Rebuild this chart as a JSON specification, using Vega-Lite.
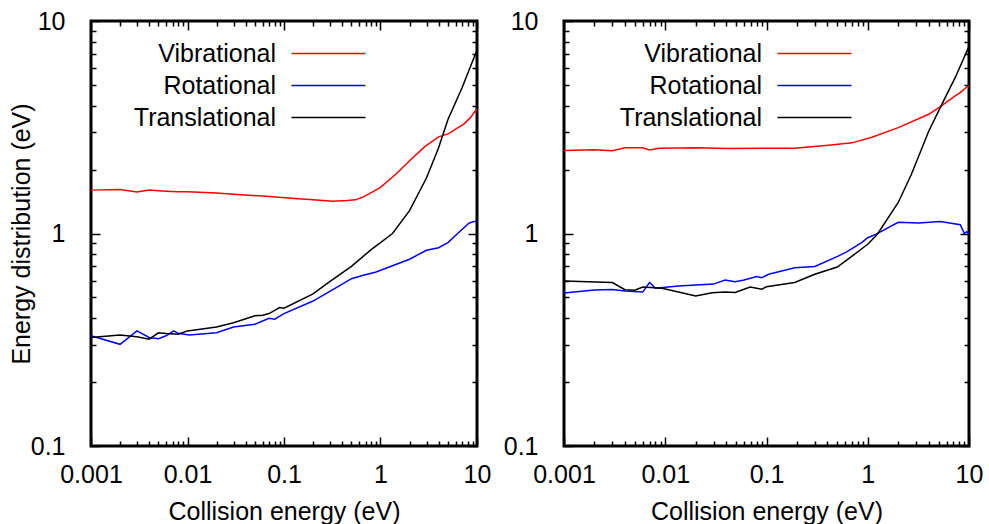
{
  "$schema": "https://vega.github.io/schema/vega-lite/v6.json",
  "background": "white",
  "padding": {"left": 7, "top": 7, "right": 5, "bottom": 5},
  "spacing": 8,
  "datasets": {
    "left": [
      {"type": "Vibrational", "x": 0.001, "y": 1.60},
      {"type": "Vibrational", "x": 0.002, "y": 1.61},
      {"type": "Vibrational", "x": 0.003, "y": 1.57},
      {"type": "Vibrational", "x": 0.004, "y": 1.60},
      {"type": "Vibrational", "x": 0.006, "y": 1.58},
      {"type": "Vibrational", "x": 0.008, "y": 1.57},
      {"type": "Vibrational", "x": 0.01, "y": 1.57},
      {"type": "Vibrational", "x": 0.02, "y": 1.55},
      {"type": "Vibrational", "x": 0.03, "y": 1.53},
      {"type": "Vibrational", "x": 0.06, "y": 1.50},
      {"type": "Vibrational", "x": 0.13, "y": 1.46},
      {"type": "Vibrational", "x": 0.2, "y": 1.44},
      {"type": "Vibrational", "x": 0.32, "y": 1.42},
      {"type": "Vibrational", "x": 0.45, "y": 1.43},
      {"type": "Vibrational", "x": 0.55, "y": 1.44},
      {"type": "Vibrational", "x": 0.65, "y": 1.48},
      {"type": "Vibrational", "x": 0.81, "y": 1.56},
      {"type": "Vibrational", "x": 1.0, "y": 1.65},
      {"type": "Vibrational", "x": 1.44, "y": 1.90},
      {"type": "Vibrational", "x": 2.0, "y": 2.2},
      {"type": "Vibrational", "x": 2.9, "y": 2.57},
      {"type": "Vibrational", "x": 4.0, "y": 2.85},
      {"type": "Vibrational", "x": 5.1, "y": 2.95},
      {"type": "Vibrational", "x": 6.0, "y": 3.1},
      {"type": "Vibrational", "x": 7.3, "y": 3.27},
      {"type": "Vibrational", "x": 8.5, "y": 3.5},
      {"type": "Vibrational", "x": 9.7, "y": 3.80},
      {"type": "Vibrational", "x": 10, "y": 3.85},
      {"type": "Rotational", "x": 0.001, "y": 0.330},
      {"type": "Rotational", "x": 0.002, "y": 0.301},
      {"type": "Rotational", "x": 0.003, "y": 0.348},
      {"type": "Rotational", "x": 0.004, "y": 0.324},
      {"type": "Rotational", "x": 0.005, "y": 0.320},
      {"type": "Rotational", "x": 0.006, "y": 0.330},
      {"type": "Rotational", "x": 0.0072, "y": 0.348},
      {"type": "Rotational", "x": 0.008, "y": 0.339},
      {"type": "Rotational", "x": 0.0104, "y": 0.333},
      {"type": "Rotational", "x": 0.02, "y": 0.341},
      {"type": "Rotational", "x": 0.03, "y": 0.363},
      {"type": "Rotational", "x": 0.05, "y": 0.374},
      {"type": "Rotational", "x": 0.07, "y": 0.399},
      {"type": "Rotational", "x": 0.08, "y": 0.395},
      {"type": "Rotational", "x": 0.1, "y": 0.42},
      {"type": "Rotational", "x": 0.2, "y": 0.481},
      {"type": "Rotational", "x": 0.37, "y": 0.566},
      {"type": "Rotational", "x": 0.5, "y": 0.613},
      {"type": "Rotational", "x": 0.65, "y": 0.634},
      {"type": "Rotational", "x": 0.9, "y": 0.659},
      {"type": "Rotational", "x": 2.0, "y": 0.757},
      {"type": "Rotational", "x": 3.0, "y": 0.834},
      {"type": "Rotational", "x": 4.0, "y": 0.857},
      {"type": "Rotational", "x": 5.0, "y": 0.906},
      {"type": "Rotational", "x": 6.3, "y": 1.0},
      {"type": "Rotational", "x": 8.3, "y": 1.12},
      {"type": "Rotational", "x": 9.5, "y": 1.14},
      {"type": "Rotational", "x": 10, "y": 1.15},
      {"type": "Translational", "x": 0.001, "y": 0.324},
      {"type": "Translational", "x": 0.002, "y": 0.333},
      {"type": "Translational", "x": 0.003, "y": 0.327},
      {"type": "Translational", "x": 0.004, "y": 0.318},
      {"type": "Translational", "x": 0.005, "y": 0.341},
      {"type": "Translational", "x": 0.006, "y": 0.338},
      {"type": "Translational", "x": 0.008, "y": 0.336},
      {"type": "Translational", "x": 0.01, "y": 0.348},
      {"type": "Translational", "x": 0.02, "y": 0.363},
      {"type": "Translational", "x": 0.03, "y": 0.38},
      {"type": "Translational", "x": 0.05, "y": 0.410},
      {"type": "Translational", "x": 0.06, "y": 0.412},
      {"type": "Translational", "x": 0.07, "y": 0.42},
      {"type": "Translational", "x": 0.09, "y": 0.448},
      {"type": "Translational", "x": 0.1, "y": 0.445},
      {"type": "Translational", "x": 0.2, "y": 0.52},
      {"type": "Translational", "x": 0.3, "y": 0.595},
      {"type": "Translational", "x": 0.5, "y": 0.70},
      {"type": "Translational", "x": 0.8, "y": 0.84},
      {"type": "Translational", "x": 1.0, "y": 0.906},
      {"type": "Translational", "x": 1.33, "y": 1.0},
      {"type": "Translational", "x": 2.0, "y": 1.28},
      {"type": "Translational", "x": 3.0, "y": 1.83},
      {"type": "Translational", "x": 4.0, "y": 2.53},
      {"type": "Translational", "x": 5.0, "y": 3.44},
      {"type": "Translational", "x": 7.0, "y": 4.85},
      {"type": "Translational", "x": 10, "y": 7.3}
    ],
    "right": [
      {"type": "Vibrational", "x": 0.001, "y": 2.46},
      {"type": "Vibrational", "x": 0.002, "y": 2.48},
      {"type": "Vibrational", "x": 0.003, "y": 2.45},
      {"type": "Vibrational", "x": 0.004, "y": 2.53},
      {"type": "Vibrational", "x": 0.006, "y": 2.53},
      {"type": "Vibrational", "x": 0.007, "y": 2.47},
      {"type": "Vibrational", "x": 0.0087, "y": 2.52},
      {"type": "Vibrational", "x": 0.02, "y": 2.53},
      {"type": "Vibrational", "x": 0.043, "y": 2.51},
      {"type": "Vibrational", "x": 0.09, "y": 2.52},
      {"type": "Vibrational", "x": 0.19, "y": 2.52},
      {"type": "Vibrational", "x": 0.41, "y": 2.60},
      {"type": "Vibrational", "x": 0.7, "y": 2.67},
      {"type": "Vibrational", "x": 1.1, "y": 2.84},
      {"type": "Vibrational", "x": 2.0, "y": 3.15},
      {"type": "Vibrational", "x": 4.0, "y": 3.64},
      {"type": "Vibrational", "x": 5.3, "y": 3.98},
      {"type": "Vibrational", "x": 7.3, "y": 4.44},
      {"type": "Vibrational", "x": 8.2, "y": 4.6},
      {"type": "Vibrational", "x": 9.5, "y": 4.89},
      {"type": "Vibrational", "x": 10, "y": 4.95},
      {"type": "Rotational", "x": 0.001, "y": 0.525},
      {"type": "Rotational", "x": 0.002, "y": 0.542},
      {"type": "Rotational", "x": 0.003, "y": 0.545},
      {"type": "Rotational", "x": 0.004, "y": 0.537},
      {"type": "Rotational", "x": 0.006, "y": 0.53},
      {"type": "Rotational", "x": 0.007, "y": 0.588},
      {"type": "Rotational", "x": 0.008, "y": 0.552},
      {"type": "Rotational", "x": 0.0135, "y": 0.566},
      {"type": "Rotational", "x": 0.03, "y": 0.578},
      {"type": "Rotational", "x": 0.039, "y": 0.604},
      {"type": "Rotational", "x": 0.049, "y": 0.593},
      {"type": "Rotational", "x": 0.06, "y": 0.604},
      {"type": "Rotational", "x": 0.08, "y": 0.627},
      {"type": "Rotational", "x": 0.09, "y": 0.62},
      {"type": "Rotational", "x": 0.105, "y": 0.643},
      {"type": "Rotational", "x": 0.19, "y": 0.690},
      {"type": "Rotational", "x": 0.30, "y": 0.70},
      {"type": "Rotational", "x": 0.51, "y": 0.783},
      {"type": "Rotational", "x": 0.62, "y": 0.82},
      {"type": "Rotational", "x": 0.87, "y": 0.906},
      {"type": "Rotational", "x": 1.0, "y": 0.955},
      {"type": "Rotational", "x": 1.2, "y": 0.99},
      {"type": "Rotational", "x": 2.0, "y": 1.13},
      {"type": "Rotational", "x": 3.2, "y": 1.12},
      {"type": "Rotational", "x": 5.2, "y": 1.14},
      {"type": "Rotational", "x": 8.2, "y": 1.10},
      {"type": "Rotational", "x": 9.0, "y": 1.0},
      {"type": "Rotational", "x": 9.5, "y": 1.02},
      {"type": "Rotational", "x": 10, "y": 1.0},
      {"type": "Translational", "x": 0.001, "y": 0.598},
      {"type": "Translational", "x": 0.003, "y": 0.588},
      {"type": "Translational", "x": 0.004, "y": 0.544},
      {"type": "Translational", "x": 0.005, "y": 0.541},
      {"type": "Translational", "x": 0.006, "y": 0.56},
      {"type": "Translational", "x": 0.0093, "y": 0.552},
      {"type": "Translational", "x": 0.02, "y": 0.508},
      {"type": "Translational", "x": 0.029, "y": 0.526},
      {"type": "Translational", "x": 0.039, "y": 0.53},
      {"type": "Translational", "x": 0.049, "y": 0.528},
      {"type": "Translational", "x": 0.069, "y": 0.56},
      {"type": "Translational", "x": 0.09, "y": 0.547},
      {"type": "Translational", "x": 0.1, "y": 0.562},
      {"type": "Translational", "x": 0.19, "y": 0.588},
      {"type": "Translational", "x": 0.30, "y": 0.643},
      {"type": "Translational", "x": 0.50, "y": 0.695},
      {"type": "Translational", "x": 0.7, "y": 0.783},
      {"type": "Translational", "x": 1.0, "y": 0.89},
      {"type": "Translational", "x": 1.24, "y": 0.99},
      {"type": "Translational", "x": 2.0, "y": 1.40},
      {"type": "Translational", "x": 2.7, "y": 1.90},
      {"type": "Translational", "x": 4.0, "y": 3.03},
      {"type": "Translational", "x": 5.8, "y": 4.35},
      {"type": "Translational", "x": 7.3, "y": 5.41},
      {"type": "Translational", "x": 10, "y": 7.6}
    ]
  },
  "hconcat": [
    {
      "width": 386,
      "height": 425,
      "data": {"name": "left"},
      "layer": [
        {
          "mark": {"type": "line", "strokeWidth": 1.5},
          "encoding": {
            "x": {"field": "x", "type": "quantitative", "title": "Collision energy (eV)",
              "scale": {"type": "log", "domain": [0.001, 10], "nice": false},
              "axis": {"orient": "bottom", "ticks": false, "values": [0.001,0.01,0.1,1,10], "format": "~g",
                "labelPadding": 16, "titlePadding": 12, "labelFlush": false, "labelOverlap": false}},
            "y": {"field": "y", "type": "quantitative", "title": "Energy distribution (eV)",
              "scale": {"type": "log", "domain": [0.1, 10], "nice": false},
              "axis": {"orient": "left", "values": [0.1,0.2,0.3,0.4,0.5,0.6,0.7,0.8,0.9,1,2,3,4,5,6,7,8,9,10],
                "labelExpr": "abs(log(datum.value)/LN10 - round(log(datum.value)/LN10)) < 0.001 ? format(datum.value, '~g') : ''",
                "tickSize": {"condition": {"test": "abs(log(datum.value)/LN10 - round(log(datum.value)/LN10)) < 0.001", "value": -9}, "value": -5},
                "labelPadding": 35, "titlePadding": -4, "labelFlush": false, "labelOverlap": false}},
            "color": {"field": "type", "type": "nominal",
              "scale": {"domain": ["Vibrational", "Rotational", "Translational"], "range": ["#ff0000", "#0000ff", "#000000"]},
              "legend": {"title": null, "orient": "none", "legendX": 224, "legendY": 19,
                "symbolType": "M-3,0H3", "symbolSize": 608, "symbolStrokeWidth": 1.5,
                "labelFontSize": 25, "labelFont": "Liberation Sans", "labelColor": "black",
                "labelAlign": "right", "labelOffset": -66, "rowPadding": 5}}
          }
        },
        {
          "mark": {"type": "line", "opacity": 0},
          "encoding": {
            "x": {"field": "x", "type": "quantitative",
              "scale": {"type": "log", "domain": [0.001, 10], "nice": false},
              "axis": {"orient": "top", "offset": -425, "title": null, "labels": false, "values": [0.001,0.002,0.003,0.004,0.005,0.006,0.007,0.008,0.009,0.01,0.02,0.03,0.04,0.05,0.06,0.07,0.08,0.09,0.1,0.2,0.3,0.4,0.5,0.6,0.7,0.8,0.9,1,2,3,4,5,6,7,8,9,10],
                "tickSize": {"condition": {"test": "abs(log(datum.value)/LN10 - round(log(datum.value)/LN10)) < 0.001", "value": 9}, "value": 5}}},
            "y": {"field": "y", "type": "quantitative",
              "scale": {"type": "log", "domain": [0.1, 10], "nice": false},
              "axis": {"orient": "right", "title": null, "labels": false, "values": [0.1,0.2,0.3,0.4,0.5,0.6,0.7,0.8,0.9,1,2,3,4,5,6,7,8,9,10],
                "tickSize": {"condition": {"test": "abs(log(datum.value)/LN10 - round(log(datum.value)/LN10)) < 0.001", "value": -9}, "value": -5}}},
            "detail": {"field": "type"}
          }
        },
        {
          "mark": {"type": "line", "opacity": 0},
          "encoding": {
            "x": {"field": "x", "type": "quantitative",
              "scale": {"type": "log", "domain": [0.001, 10], "nice": false},
              "axis": {"orient": "bottom", "offset": -425, "title": null, "labels": false, "values": [0.001,0.002,0.003,0.004,0.005,0.006,0.007,0.008,0.009,0.01,0.02,0.03,0.04,0.05,0.06,0.07,0.08,0.09,0.1,0.2,0.3,0.4,0.5,0.6,0.7,0.8,0.9,1,2,3,4,5,6,7,8,9,10],
                "tickSize": {"condition": {"test": "abs(log(datum.value)/LN10 - round(log(datum.value)/LN10)) < 0.001", "value": 9}, "value": 5}}},
            "y": {"field": "y", "type": "quantitative",
              "scale": {"type": "log", "domain": [0.1, 10], "nice": false}, "axis": null},
            "detail": {"field": "type"}
          }
        }
      ],
      "resolve": {"axis": {"x": "independent", "y": "independent"}}
    },
    {
      "width": 405,
      "height": 425,
      "data": {"name": "right"},
      "layer": [
        {
          "mark": {"type": "line", "strokeWidth": 1.5},
          "encoding": {
            "x": {"field": "x", "type": "quantitative", "title": "Collision energy (eV)",
              "scale": {"type": "log", "domain": [0.001, 10], "nice": false},
              "axis": {"orient": "bottom", "ticks": false, "values": [0.001,0.01,0.1,1,10], "format": "~g",
                "labelPadding": 16, "titlePadding": 12, "labelFlush": false, "labelOverlap": false}},
            "y": {"field": "y", "type": "quantitative", "title": null,
              "scale": {"type": "log", "domain": [0.1, 10], "nice": false},
              "axis": {"orient": "left", "values": [0.1,0.2,0.3,0.4,0.5,0.6,0.7,0.8,0.9,1,2,3,4,5,6,7,8,9,10],
                "labelExpr": "abs(log(datum.value)/LN10 - round(log(datum.value)/LN10)) < 0.001 ? format(datum.value, '~g') : ''",
                "tickSize": {"condition": {"test": "abs(log(datum.value)/LN10 - round(log(datum.value)/LN10)) < 0.001", "value": -9}, "value": -5},
                "labelPadding": 35, "labelFlush": false, "labelOverlap": false}},
            "color": {"field": "type", "type": "nominal",
              "scale": {"domain": ["Vibrational", "Rotational", "Translational"], "range": ["#ff0000", "#0000ff", "#000000"]},
              "legend": {"title": null, "orient": "none", "legendX": 237, "legendY": 19,
                "symbolType": "M-3,0H3", "symbolSize": 608, "symbolStrokeWidth": 1.5,
                "labelFontSize": 25, "labelFont": "Liberation Sans", "labelColor": "black",
                "labelAlign": "right", "labelOffset": -66, "rowPadding": 5}}
          }
        },
        {
          "mark": {"type": "line", "opacity": 0},
          "encoding": {
            "x": {"field": "x", "type": "quantitative",
              "scale": {"type": "log", "domain": [0.001, 10], "nice": false},
              "axis": {"orient": "top", "offset": -425, "title": null, "labels": false, "values": [0.001,0.002,0.003,0.004,0.005,0.006,0.007,0.008,0.009,0.01,0.02,0.03,0.04,0.05,0.06,0.07,0.08,0.09,0.1,0.2,0.3,0.4,0.5,0.6,0.7,0.8,0.9,1,2,3,4,5,6,7,8,9,10],
                "tickSize": {"condition": {"test": "abs(log(datum.value)/LN10 - round(log(datum.value)/LN10)) < 0.001", "value": 9}, "value": 5}}},
            "y": {"field": "y", "type": "quantitative",
              "scale": {"type": "log", "domain": [0.1, 10], "nice": false},
              "axis": {"orient": "right", "title": null, "labels": false, "values": [0.1,0.2,0.3,0.4,0.5,0.6,0.7,0.8,0.9,1,2,3,4,5,6,7,8,9,10],
                "tickSize": {"condition": {"test": "abs(log(datum.value)/LN10 - round(log(datum.value)/LN10)) < 0.001", "value": -9}, "value": -5}}},
            "detail": {"field": "type"}
          }
        },
        {
          "mark": {"type": "line", "opacity": 0},
          "encoding": {
            "x": {"field": "x", "type": "quantitative",
              "scale": {"type": "log", "domain": [0.001, 10], "nice": false},
              "axis": {"orient": "bottom", "offset": -425, "title": null, "labels": false, "values": [0.001,0.002,0.003,0.004,0.005,0.006,0.007,0.008,0.009,0.01,0.02,0.03,0.04,0.05,0.06,0.07,0.08,0.09,0.1,0.2,0.3,0.4,0.5,0.6,0.7,0.8,0.9,1,2,3,4,5,6,7,8,9,10],
                "tickSize": {"condition": {"test": "abs(log(datum.value)/LN10 - round(log(datum.value)/LN10)) < 0.001", "value": 9}, "value": 5}}},
            "y": {"field": "y", "type": "quantitative",
              "scale": {"type": "log", "domain": [0.1, 10], "nice": false}, "axis": null},
            "detail": {"field": "type"}
          }
        }
      ],
      "resolve": {"axis": {"x": "independent", "y": "independent"}}
    }
  ],
  "resolve": {"scale": {"color": "independent"}, "legend": {"color": "independent"}},
  "config": {
    "font": "Liberation Sans",
    "view": {"stroke": "black", "strokeWidth": 3},
    "axis": {"domain": false, "grid": false, "tickColor": "black", "tickWidth": 1.5, "tickOpacity": 1,
      "labelFont": "Liberation Sans", "labelFontSize": 25, "labelColor": "black",
      "titleFont": "Liberation Sans", "titleFontSize": 25, "titleFontWeight": "normal", "titleColor": "black"},
    "legend": {"labelLimit": 0}
  }
}
